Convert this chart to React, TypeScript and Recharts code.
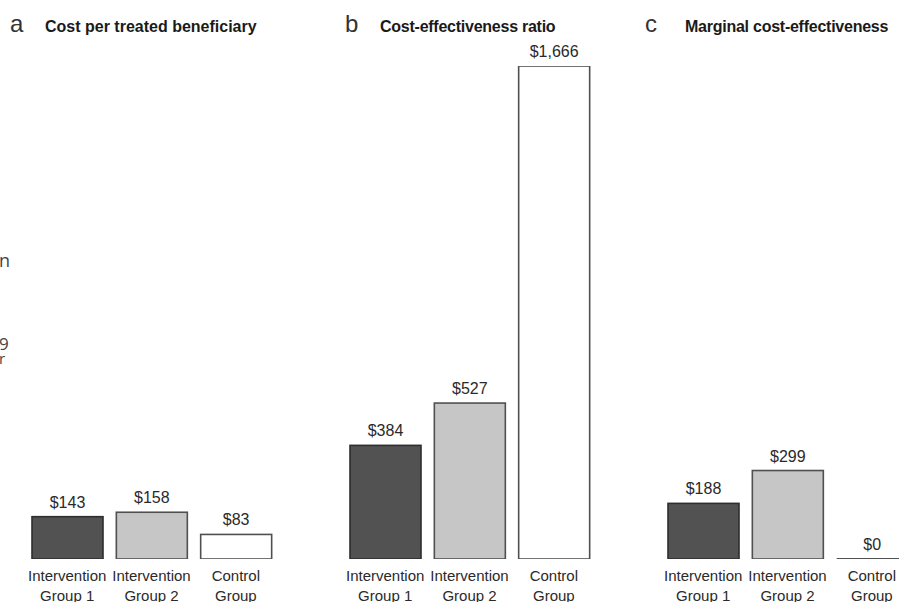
import { BarChart, Bar, XAxis, YAxis, LabelList } from "recharts";

const groups = ["Intervention\nGroup 1", "Intervention\nGroup 2", "Control\nGroup"];
const costPerBeneficiary = [143, 158, 83];
const costEffectiveness = [384, 527, 1666];
const marginalCost = [188, 299, 0];

const panelLetters = ["a", "b", "c"];
const panelTitles = ["Cost per treated beneficiary", "Cost-effectiveness ratio", "Marginal cost-effectiveness"];
const panelValues = [costPerBeneficiary, costEffectiveness, marginalCost];

const fills = ["#525252", "#c6c6c6", "#ffffff"];
const strokes = ["#2e2e2e", "#505050", "#505050"];

// layout
const panelLeft = [25, 343, 661];
const letterX = [10, 345, 645];
const titleX = [45, 380, 685];
const titleSpacing = [0, -0.25, -0.25];
const FONT = "'Liberation Sans', Arial, sans-serif";
const yMax = Math.max(...panelValues.flat());

function GroupTick({ x, y, payload }: any) {
  const lines = String(payload.value).split("\n");
  return (
    <text x={x} y={y} textAnchor="middle" fill="#2a2a2a" fontSize={15} fontFamily={FONT}>
      {lines.map((l, i) => (
        <tspan key={i} x={x} dy={i === 0 ? 22 : 20}>
          {l}
        </tspan>
      ))}
    </text>
  );
}

function CostBar(props: any) {
  const { x, y, width, height, index } = props;
  if (!height) {
    return <line x1={x} x2={x + width} y1={y} y2={y} stroke={strokes[index]} strokeWidth={2} />;
  }
  return (
    <rect x={x} y={y} width={width} height={height} fill={fills[index]} stroke={strokes[index]} strokeWidth={1.6} />
  );
}

function Panel({ values, left }: { values: number[]; left: number }) {
  const data = groups.map((g, i) => ({ group: g, value: values[i] }));
  return (
    <div style={{ position: "absolute", left, top: 0 }}>
      <BarChart width={253} height={602} data={data} margin={{ top: 66, right: 0, bottom: 0, left: 0 }}>
        <YAxis hide domain={[0, yMax]} allowDataOverflow />
        <XAxis
          dataKey="group"
          height={43}
          axisLine={false}
          tickLine={false}
          tickSize={0}
          tickMargin={0}
          interval={0}
          tick={<GroupTick />}
        />
        <Bar dataKey="value" barSize={71} shape={<CostBar />} isAnimationActive={false}>
          <LabelList
            dataKey="value"
            position="top"
            offset={9}
            formatter={(v: any) => "$" + Number(v).toLocaleString("en-US")}
            fill="#2a2a2a"
            fontSize={16}
            fontFamily={FONT}
          />
        </Bar>
      </BarChart>
    </div>
  );
}

export default function App() {
  return (
    <div
      style={{
        position: "absolute",
        left: 0,
        top: 0,
        width: 899,
        height: 602,
        overflow: "hidden",
        background: "#fff",
      }}
    >
      {panelValues.map((v, i) => (
        <Panel key={i} values={v} left={panelLeft[i]} />
      ))}
      <svg width={899} height={602} style={{ position: "absolute", left: 0, top: 0, pointerEvents: "none" }}>
        {panelLetters.map((l, i) => (
          <text key={l} x={letterX[i]} y={32} fontSize={24} fill="#333" fontFamily={FONT}>
            {l}
          </text>
        ))}
        {panelTitles.map((t, i) => (
          <text
            key={t}
            x={titleX[i]}
            y={32}
            fontSize={16}
            fontWeight="bold"
            letterSpacing={titleSpacing[i]}
            fill="#1a1a1a"
            fontFamily={FONT}
          >
            {t}
          </text>
        ))}
        <text x={-1} y={267} fontSize={18} fill="#444" fontFamily="'Open Sans', sans-serif">n</text>
        <text x={-1} y={350} fontSize={17} fill="#444" fontFamily="'Open Sans', sans-serif">9</text>
        <text x={-1} y={364} fontSize={15} fill="#444" fontFamily="'Open Sans', sans-serif">r</text>
      </svg>
    </div>
  );
}
